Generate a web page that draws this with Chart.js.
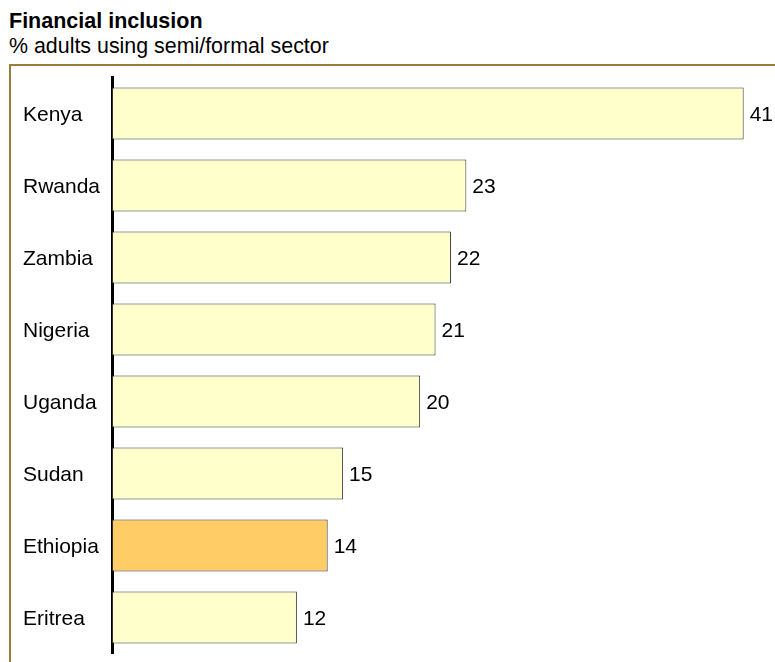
<!DOCTYPE html>
<html>
<head>
<meta charset="utf-8">
<script src="https://cdn.jsdelivr.net/npm/chart.js@4/dist/chart.umd.min.js"></script>
<style>
  html, body { margin: 0; padding: 0; background: #fff; }
  #wrap { position: relative; width: 775px; height: 662px; overflow: hidden;
          font-family: "Liberation Sans", Arial, sans-serif; color: #000; }
  .title { position: absolute; left: 9px; top: 11px; font-size: 21.5px; line-height: 21px; font-weight: bold; }
  .sub   { position: absolute; left: 9px; top: 36px; font-size: 21.4px; line-height: 21px; }
  .frame { position: absolute; left: 9px; top: 64px; width: 764px; height: 620px;
           border-top: 2px solid #9c7a3a; border-left: 2px solid #9c7a3a; }
  canvas { position: absolute; left: 0; top: 0; }
</style>
</head>
<body>
<div id="wrap">
  <div class="title">Financial inclusion</div>
  <div class="sub">% adults using semi/formal sector</div>
  <div class="frame"></div>
  <canvas id="chart" width="775" height="662"></canvas>
</div>
<script>
// ── data ─────────────────────────────
const countries = ['Kenya', 'Rwanda', 'Zambia', 'Nigeria', 'Uganda', 'Sudan', 'Ethiopia', 'Eritrea'];
const shares    = [41, 23, 22, 21, 20, 15, 14, 12];
const highlight = 'Ethiopia';   // the one bar in orange

const barColors = countries.map(c => c === highlight ? '#ffcc66' : '#ffffcc');

// writes the number just past the end of each bar
const valueLabels = {
  id: 'valueLabels',
  afterDatasetsDraw(chart) {
    const ctx = chart.ctx;
    const meta = chart.getDatasetMeta(0);
    ctx.save();
    ctx.font = '21px "Liberation Sans", Arial, sans-serif';
    ctx.fillStyle = '#000';
    ctx.textAlign = 'left';
    ctx.textBaseline = 'middle';
    meta.data.forEach((bar, i) => {
      ctx.fillText(String(shares[i]), bar.x + 6, bar.y + 2);
    });
    ctx.restore();
  }
};

new Chart(document.getElementById('chart'), {
  type: 'bar',
  data: {
    labels: countries,
    datasets: [{
      data: shares,
      backgroundColor: barColors,
      borderColor: '#333',
      borderWidth: 1,
      borderSkipped: false,
      categoryPercentage: 1,
      barPercentage: 0.722
    }]
  },
  options: {
    indexAxis: 'y',
    responsive: false,
    animation: false,
    devicePixelRatio: 1,
    layout: { padding: { left: 23, right: 19, top: 77.5, bottom: 8.5 } },
    plugins: {
      legend: { display: false },
      tooltip: { enabled: false }
    },
    scales: {
      x: {
        display: false,
        min: 0,
        max: 41.8
      },
      y: {
        grid: { display: false, drawTicks: false },
        border: { display: true, color: '#000', width: 3 },
        ticks: {
          crossAlign: 'far',
          padding: 0,
          labelOffset: 2,
          color: '#000',
          font: { family: '"Liberation Sans", Arial, sans-serif', size: 21 }
        },
        afterFit(scale) {
          scale.width = 89;
          // labels sit mid-row, so no extra room is needed above/below
          scale.paddingTop = 0;
          scale.paddingBottom = 0;
        }
      }
    }
  },
  plugins: [valueLabels]
});
</script>
</body>
</html>
